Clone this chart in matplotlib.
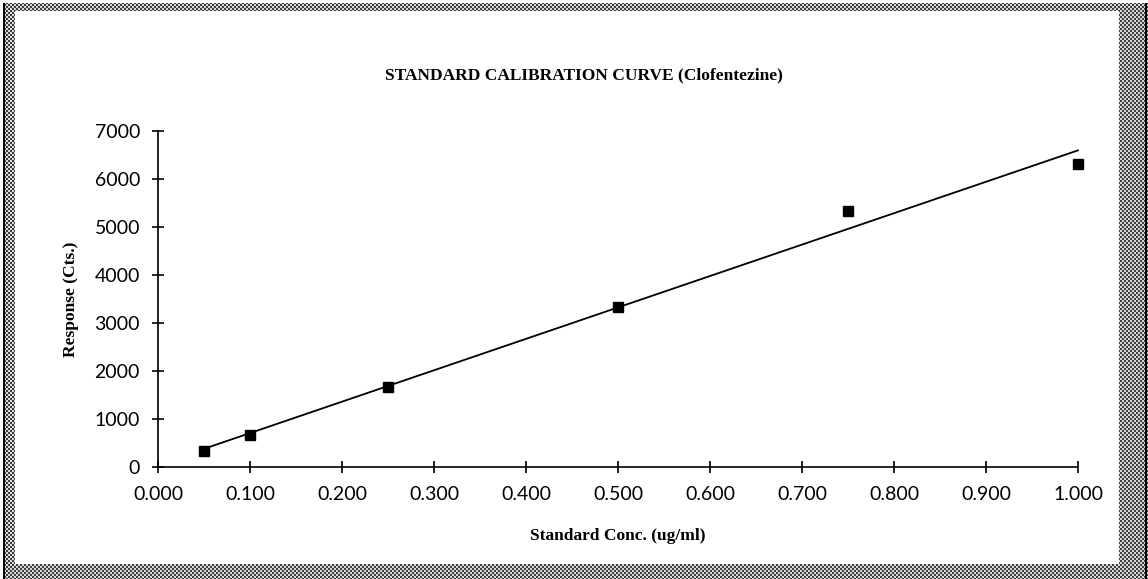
import numpy as np
import matplotlib
matplotlib.use("Agg")
import matplotlib.pyplot as plt

# standard concentrations (ug/ml) and detector response (counts)
conc = [0.05, 0.10, 0.25, 0.50, 0.75, 1.00]
response = [330, 665, 1670, 3330, 5340, 6320]

xticks = [0.0, 0.1, 0.2, 0.3, 0.4, 0.5, 0.6, 0.7, 0.8, 0.9, 1.0]
yticks = [0, 1000, 2000, 3000, 4000, 5000, 6000, 7000]

W, H = 1148, 579
fig = plt.figure(figsize=(W / 100, H / 100), dpi=100)

# dotted grey frame round the sheet
yy, xx = np.mgrid[0:H, 0:W]
frame = np.where(((xx // 2) + (yy // 2)) % 2 == 0, 0.25, 0.85)
inner = (xx >= 15) & (xx < 1119) & (yy >= 11) & (yy < 564)
frame[inner] = 1.0
frame[:, 0:3] = 1.0
frame[:, 3:5] = 0.0
frame[:, W - 3:W - 1] = 0.0
frame[0:3, :] = 1.0
img = np.dstack([frame, frame, frame])
fig.figimage(img, 0, 0, origin="upper", zorder=0)

ax = fig.add_axes([158 / W, 1 - 467 / H, 920 / W, 336 / H], zorder=2)
ax.patch.set_alpha(0)

# least squares calibration line
slope, icpt = np.polyfit(conc, response, 1)
xs = np.array([min(conc), max(conc)])
ax.plot(xs, slope * xs + icpt, color="black", lw=1.3, zorder=2, clip_on=False)
ax.plot(conc, response, ls="none", marker="s", ms=7.5, color="black",
        zorder=3, clip_on=False)

ax.set_xlim(0, 1.0)
ax.set_ylim(0, 7000)
ax.set_xticks(xticks)
ax.set_yticks(yticks)
ax.set_xticklabels(["%.3f" % t for t in xticks])
ax.set_yticklabels(["%d" % t for t in yticks])

for s in ["top", "right"]:
    ax.spines[s].set_visible(False)
for s in ["left", "bottom"]:
    ax.spines[s].set_linewidth(1.2)

ax.tick_params(direction="inout", length=8, width=1.2, labelsize=14)
for lab in ax.get_xticklabels() + ax.get_yticklabels():
    lab.set_family("Lato")
ax.tick_params(axis="x", pad=10)
ax.tick_params(axis="y", pad=9)

serif = {"family": "Liberation Serif", "weight": "bold", "size": 12.5}
ax.set_xlabel("Standard Conc. (ug/ml)", fontdict=serif, labelpad=18)
ax.set_ylabel("Response (Cts.)", fontdict=serif, labelpad=11)
fig.text(584 / W, 1 - 75 / H, "STANDARD CALIBRATION CURVE (Clofentezine)",
         ha="center", va="center", zorder=3, **serif)

fig.savefig("out.png", dpi=100)
